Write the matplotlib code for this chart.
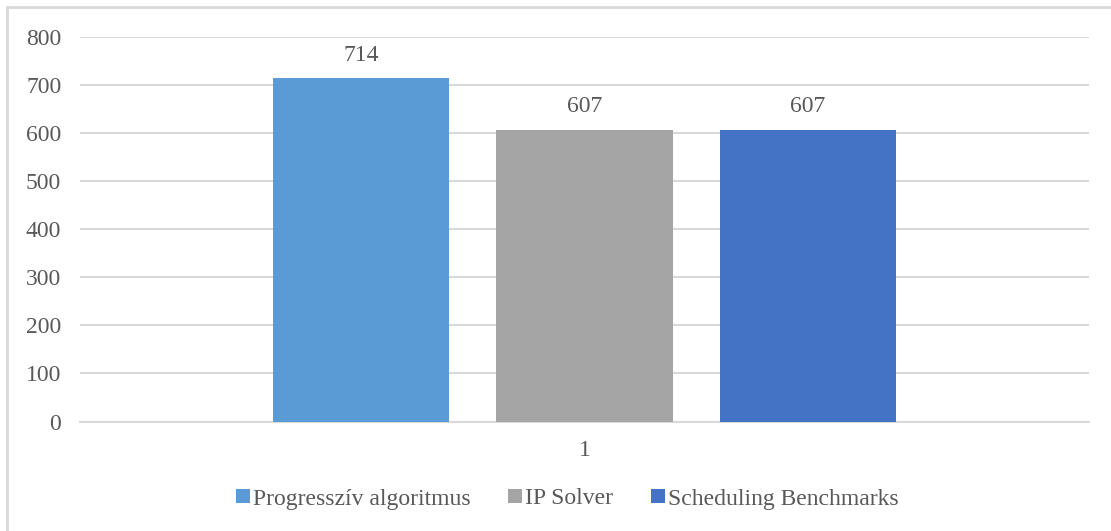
import matplotlib.pyplot as plt
from matplotlib.patches import Rectangle, Patch

plt.rcParams["font.family"] = ["Liberation Serif", "DejaVu Serif"]

categories = ["1"]
series_names = ["Progresszív algoritmus", "IP Solver", "Scheduling Benchmarks"]
series_values = [714, 607, 607]
series_colors = ["#5B9BD5", "#A5A5A5", "#4472C4"]
y_ticks = [0, 100, 200, 300, 400, 500, 600, 700, 800]

text_color = "#595959"
grid_color = "#D9D9D9"

fig = plt.figure(figsize=(11.11, 5.31), dpi=100)
ax = fig.add_axes([80 / 1111, 1 - 421.5 / 531, 1009 / 1111, 384.5 / 531])

# outer chart border, running off the right and bottom edges
fig.patches.append(Rectangle((7 / 1111, -0.1), 1.2, 1 - 7 / 531 + 0.1,
                             transform=fig.transFigure, fill=False,
                             edgecolor="#D9D9D9", linewidth=2.0))

width = 0.1754
offsets = [-0.2215, 0.0, 0.2215]
for name, val, col, off in zip(series_names, series_values, series_colors, offsets):
    ax.bar(off, val, width=width, color=col, label=name, zorder=3)
    ax.annotate(f"{val}", (off, val), xytext=(0, 9), textcoords="offset points",
                ha="center", va="bottom", fontsize=17, color=text_color)

ax.set_xlim(-0.5, 0.5)
ax.set_ylim(0, 800)
ax.set_yticks(y_ticks)
ax.set_xticks([0])
ax.set_xticklabels(categories)
ax.yaxis.grid(True, color=grid_color, linewidth=1.5, zorder=0)
ax.set_axisbelow(True)
for s in ["top", "right", "left"]:
    ax.spines[s].set_visible(False)
ax.spines["bottom"].set_color(grid_color)
ax.spines["bottom"].set_linewidth(1.5)
ax.tick_params(axis="both", length=0, labelsize=17, labelcolor=text_color)
ax.tick_params(axis="y", pad=13.5)
ax.tick_params(axis="x", pad=13)

handles = [Patch(facecolor=c, label=n) for n, c in zip(series_names, series_colors)]
fig.legend(handles=handles, loc="center", bbox_to_anchor=(567 / 1111, 1 - 499 / 531),
           ncol=3, frameon=False, fontsize=17, labelcolor=text_color,
           handlelength=0.6, handleheight=0.55, handletextpad=0.12, columnspacing=1.6,
           borderpad=0, borderaxespad=0)

fig.savefig("out.png", dpi=100)
